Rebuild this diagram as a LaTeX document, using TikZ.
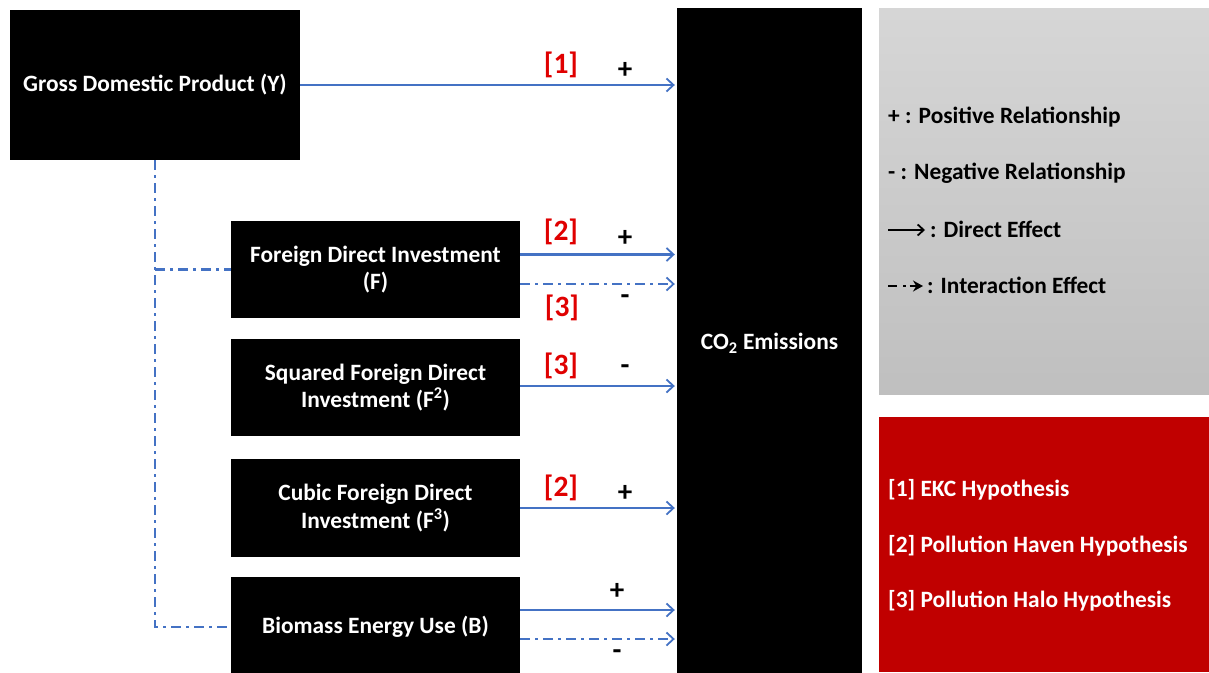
\documentclass[tikz,border=0pt]{standalone}
\usepackage{fontspec}
\setmainfont{Carlito}
\usetikzlibrary{arrows.meta,calc}
\definecolor{arrblue}{HTML}{4472C4}
\definecolor{hyred}{HTML}{C00000}
\definecolor{labred}{HTML}{E00000}
\begin{document}
\begin{tikzpicture}[x=1pt,y=-1pt,
  box/.style={fill=black,draw=none,text=white,font=\fontsize{23.4}{27.5}\selectfont\bfseries,align=center,inner sep=0pt},
  direct/.style={draw=arrblue,line width=2.2pt,-{Straight Barb[length=7pt,width=13pt,line width=1.8pt]}},
  interact/.style={draw=arrblue,line width=2.2pt,dash pattern=on 10pt off 5pt on 3pt off 5pt,-{Straight Barb[length=7pt,width=13pt,line width=1.8pt]}},
  link/.style={draw=arrblue,line width=2.2pt,dash pattern=on 10pt off 5pt on 3pt off 5pt},
  reflab/.style={text=labred,font=\fontsize{29.5}{31}\selectfont\bfseries,inner sep=0pt},
  signlab/.style={text=black,font=\fontsize{29}{31}\selectfont\bfseries,inner sep=0pt},
  legtext/.style={anchor=west,inner sep=0pt,font=\fontsize{23.4}{27}\selectfont\bfseries}
]
\useasboundingbox (0,0) rectangle (1209,672);
\fill[white] (0,0) rectangle (1209,672);

% boxes
\node[box,minimum width=290pt,minimum height=150pt] (gdp) at (155,85) {Gross Domestic Product (Y)};
\node[box,minimum width=289pt,minimum height=97pt] (fdi) at (375.5,269.5) {Foreign Direct Investment\\(F)};
\node[box,minimum width=289pt,minimum height=97pt] (sq) at (375.5,387.5) {Squared Foreign Direct\\Investment (F\textsuperscript{2})};
\node[box,minimum width=289pt,minimum height=98pt] (cub) at (375.5,508) {Cubic Foreign Direct\\Investment (F\textsuperscript{3})};
\node[box,minimum width=289pt,minimum height=100pt] (bio) at (375.5,627) {Biomass Energy Use (B)};
\node[box,minimum width=185pt,minimum height=670pt] (co2) at (769.5,343) {CO\textsubscript{2} Emissions};

% legend boxes
\shade[top color=black!16,bottom color=black!25] (879,8) rectangle (1209,394);
\node[legtext] (l1) at (888,117) {+ : Positive Relationship};
\node[legtext] (l2) at (888,173) {- : Negative Relationship};
\coordinate (la1) at (888,230);
\coordinate (la2) at (925,230);
\draw[line width=2.2pt,-{Straight Barb[length=6pt,width=11pt,line width=1.8pt]}] (la1) -- (la2);
\node[legtext] (l3) at (930,229) {: Direct Effect};
\coordinate (lb1) at (888,286);
\coordinate (lb2) at (923,286);
\draw[line width=2.2pt,dash pattern=on 9pt off 6pt on 2.5pt off 4pt,-{Stealth[length=10pt,width=11pt]}] (lb1) -- (lb2);
\node[legtext] (l4) at (927,285) {: Interaction Effect};

\fill[hyred] (879,417) rectangle (1209,672);
\node[legtext,text=white] (h1) at (888,490) {[1] EKC Hypothesis};
\node[legtext,text=white] (h2) at (888,546) {[2] Pollution Haven Hypothesis};
\node[legtext,text=white] (h3) at (888,601) {[3] Pollution Halo Hypothesis};

% connectors
\draw[direct] (gdp.east) -- ([xshift=-2pt]gdp.east -| co2.west);
\draw[direct] ([yshift=15pt]fdi.east) -- ([yshift=15pt,xshift=-2pt]fdi.east -| co2.west);
\draw[interact] ([yshift=-14.5pt]fdi.east) -- ([yshift=-14.5pt,xshift=-2pt]fdi.east -| co2.west);
\draw[direct] ([yshift=1.5pt]sq.east) -- ([yshift=1.5pt,xshift=-2pt]sq.east -| co2.west);
\draw[direct] (cub.east) -- ([xshift=-2pt]cub.east -| co2.west);
\draw[direct] ([yshift=17pt]bio.east) -- ([yshift=17pt,xshift=-2pt]bio.east -| co2.west);
\draw[interact] ([yshift=-12pt]bio.east) -- ([yshift=-12pt,xshift=-2pt]bio.east -| co2.west);

\draw[link] (gdp.south) |- (bio.west);
\draw[link] (gdp.south |- fdi.west) -- (fdi.west);

% labels
\node[reflab] (r1) at (561,65) {[1]};
\node[signlab] (s1) at (625,70) {+};
\node[reflab] (r2) at (561,232) {[2]};
\node[signlab] (s2) at (625,238) {+};
\node[reflab] (r3) at (562,308) {[3]};
\node[signlab] (s3) at (625,300) {-};
\node[reflab] (r4) at (561,366) {[3]};
\node[signlab] (s4) at (625,370) {-};
\node[reflab] (r5) at (561,488) {[2]};
\node[signlab] (s5) at (625,493) {+};
\node[signlab] (s6) at (617,591) {+};
\node[signlab] (s7) at (617,655) {-};
\end{tikzpicture}
\end{document}
